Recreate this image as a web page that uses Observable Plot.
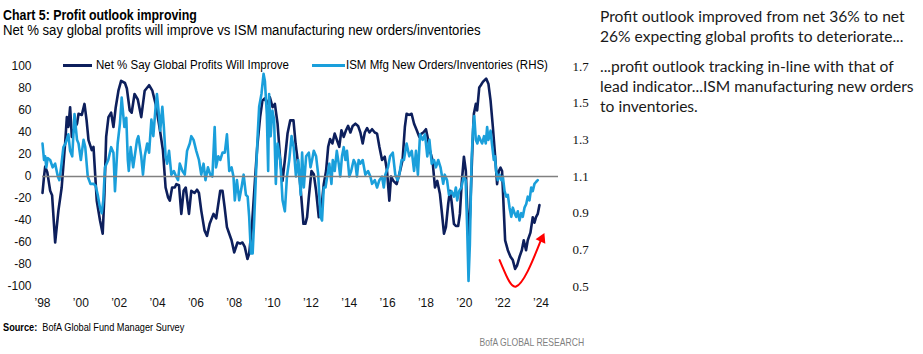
<!DOCTYPE html>
<html><head><meta charset="utf-8">
<script src="https://cdn.jsdelivr.net/npm/d3@7"></script>
<script src="https://cdn.jsdelivr.net/npm/@observablehq/plot@0.6"></script>
<style>
body{margin:0;background:#fff;}
#page{position:relative;width:923px;height:354px;overflow:hidden;font-family:"Liberation Sans Narrow","Arial Narrow","Liberation Sans",sans-serif;color:#000;}
.abs{position:absolute;white-space:nowrap;transform-origin:0 50%;}
#title{left:3px;top:7.3px;font-size:15px;line-height:15px;font-weight:bold;transform:scaleX(0.825);}
#subtitle{left:3px;top:23.2px;font-size:14px;line-height:14px;transform:scaleX(0.94);}
#chart{position:absolute;left:0;top:44px;}
.leg{font-size:12.5px;line-height:12.5px;top:59.4px;transform:scaleX(0.92);}
.legline{position:absolute;height:3px;top:64px;}
#source{left:3px;top:321.7px;font-size:11px;line-height:11px;transform:scaleX(0.835);}
#bofa{right:339px;top:336.7px;font-size:11px;line-height:11px;color:#7f7f7f;transform-origin:100% 50%;transform:scaleX(0.78);}
.note{left:600px;font-family:Lato,"Open Sans",sans-serif;font-size:15.6px;line-height:20px;color:#1a1a1a;}
</style></head>
<body><div id="page">
<div id="title" class="abs">Chart 5: Profit outlook improving</div>
<div id="subtitle" class="abs">Net % say global profits will improve vs ISM manufacturing new orders/inventories</div>
<div id="chart"></div>
<div class="legline" style="left:63px;width:29px;background:#0d1f5c"></div>
<div class="abs leg" style="left:96px">Net % Say Global Profits Will Improve</div>
<div class="legline" style="left:312px;width:33px;background:#1a9fdb"></div>
<div class="abs leg" style="left:346px">ISM Mfg New Orders/Inventories (RHS)</div>
<div id="source" class="abs"><b>Source:</b>&nbsp; BofA Global Fund Manager Survey</div>
<div id="bofa" class="abs">BofA GLOBAL RESEARCH</div>
<div class="abs note" style="top:5.9px">Profit outlook improved from net 36% to net<br>26% expecting global profits to deteriorate...</div>
<div class="abs note" style="top:55.9px">...profit outlook tracking in-line with that of<br>lead indicator...ISM manufacturing new orders<br>to inventories.</div>
</div>
<script>
// Net % say global profits will improve (LHS)
const profitYears = [1998.00,1998.08,1998.14,1998.25,1998.40,1998.50,1998.66,1998.83,1999.00,1999.18,1999.27,1999.35,1999.44,1999.53,1999.62,1999.80,1999.88,2000.05,2000.19,2000.30,2000.40,2000.57,2000.66,2000.83,2001.00,2001.14,2001.23,2001.32,2001.44,2001.58,2001.70,2001.82,2001.96,2002.10,2002.30,2002.40,2002.55,2002.65,2002.80,2002.97,2003.15,2003.33,2003.56,2003.73,2003.90,2004.10,2004.28,2004.42,2004.55,2004.64,2004.76,2004.90,2004.98,2005.12,2005.24,2005.36,2005.47,2005.64,2005.76,2005.93,2006.06,2006.16,2006.28,2006.45,2006.58,2006.72,2006.92,2007.06,2007.27,2007.39,2007.50,2007.62,2007.74,2007.86,2008.00,2008.17,2008.31,2008.43,2008.55,2008.69,2008.78,2008.92,2009.08,2009.20,2009.35,2009.47,2009.59,2009.73,2009.86,2010.00,2010.12,2010.26,2010.40,2010.52,2010.64,2010.78,2010.92,2011.09,2011.20,2011.38,2011.50,2011.61,2011.71,2011.80,2011.89,2012.03,2012.15,2012.27,2012.41,2012.55,2012.67,2012.79,2012.90,2013.00,2013.12,2013.24,2013.36,2013.48,2013.59,2013.71,2013.83,2013.94,2014.06,2014.18,2014.32,2014.46,2014.58,2014.70,2014.81,2014.93,2015.05,2015.19,2015.33,2015.45,2015.57,2015.71,2015.85,2015.97,2016.09,2016.18,2016.30,2016.47,2016.65,2016.78,2016.90,2016.99,2017.12,2017.25,2017.38,2017.52,2017.65,2017.77,2017.86,2018.00,2018.12,2018.20,2018.34,2018.47,2018.59,2018.73,2018.82,2018.94,2019.04,2019.16,2019.25,2019.33,2019.46,2019.56,2019.68,2019.77,2019.86,2019.98,2020.08,2020.15,2020.22,2020.32,2020.43,2020.50,2020.60,2020.67,2020.78,2020.86,2020.97,2021.14,2021.26,2021.37,2021.49,2021.61,2021.71,2021.80,2021.89,2021.97,2022.06,2022.13,2022.27,2022.41,2022.53,2022.65,2022.75,2022.88,2023.00,2023.10,2023.22,2023.31,2023.45,2023.57,2023.66,2023.74,2023.83,2023.92];
const profitValues = [-15,0,9,4,-13,-17,-60,-31,-10,30,54,45,63,36,42,48,57,56,66,51,33,24,27,-22,-40,-52,-16,36,54,58,45,63,78,87,85,80,60,58,75,70,54,78,83,78,66,45,24,-10,-19,-22,-10,-10,-7,-8,-34,-13,-10,-34,-13,-15,-12,-15,-31,-49,-54,-43,-34,-38,-13,-13,-28,-46,-52,-58,-69,-60,-61,-60,-64,-75,-70,-46,-4,27,54,69,71,66,72,63,66,48,15,-4,15,39,51,51,30,5,-19,-43,-43,-37,-19,5,2,-13,-37,-28,-7,5,27,34,30,39,33,27,42,36,42,46,40,46,48,46,40,30,40,44,40,43,40,39,27,15,18,5,-22,0,-4,-7,5,15,45,57,56,57,48,42,36,39,40,43,33,24,15,-10,-4,-16,-31,-52,-46,-25,-13,-22,-43,-45,-45,-34,-7,18,5,-28,-64,-25,30,57,66,60,81,83,86,89,84,69,45,18,-7,5,8,5,-31,-58,-67,-73,-76,-84,-81,-73,-67,-58,-67,-58,-51,-37,-42,-37,-34,-26];

// ISM manufacturing new orders / inventories (RHS)
const ismYears = [1998.00,1998.08,1998.14,1998.20,1998.27,1998.40,1998.53,1998.66,1998.80,1998.88,1998.97,1999.09,1999.20,1999.35,1999.44,1999.55,1999.67,1999.80,1999.88,2000.00,2000.14,2000.23,2000.36,2000.50,2000.66,2000.77,2000.88,2001.00,2001.09,2001.17,2001.26,2001.43,2001.58,2001.70,2001.78,2001.92,2002.04,2002.13,2002.27,2002.37,2002.45,2002.50,2002.60,2002.73,2002.93,2003.00,2003.15,2003.24,2003.33,2003.46,2003.56,2003.68,2003.78,2003.90,2003.97,2004.07,2004.14,2004.25,2004.33,2004.42,2004.50,2004.60,2004.72,2004.85,2004.97,2005.07,2005.16,2005.30,2005.42,2005.54,2005.68,2005.76,2005.88,2006.02,2006.16,2006.28,2006.40,2006.50,2006.63,2006.75,2006.86,2006.98,2007.05,2007.17,2007.27,2007.39,2007.51,2007.62,2007.74,2007.86,2007.96,2008.03,2008.14,2008.26,2008.38,2008.49,2008.61,2008.70,2008.78,2008.87,2008.96,2009.04,2009.13,2009.22,2009.30,2009.42,2009.53,2009.60,2009.70,2009.77,2009.82,2009.90,2009.99,2010.08,2010.17,2010.26,2010.40,2010.52,2010.64,2010.75,2010.87,2010.99,2011.10,2011.22,2011.34,2011.47,2011.54,2011.63,2011.75,2011.89,2011.98,2012.06,2012.15,2012.27,2012.38,2012.50,2012.58,2012.67,2012.76,2012.85,2012.96,2013.07,2013.14,2013.24,2013.35,2013.45,2013.53,2013.62,2013.71,2013.80,2013.88,2014.00,2014.10,2014.23,2014.32,2014.40,2014.49,2014.58,2014.70,2014.84,2014.98,2015.10,2015.19,2015.33,2015.45,2015.57,2015.71,2015.80,2015.88,2016.02,2016.13,2016.27,2016.40,2016.52,2016.61,2016.73,2016.85,2016.99,2017.13,2017.26,2017.38,2017.48,2017.58,2017.69,2017.83,2017.95,2018.07,2018.18,2018.30,2018.42,2018.52,2018.64,2018.76,2018.90,2018.98,2019.10,2019.20,2019.33,2019.46,2019.56,2019.63,2019.73,2019.85,2019.97,2020.07,2020.15,2020.22,2020.29,2020.38,2020.46,2020.52,2020.60,2020.68,2020.76,2020.84,2020.93,2021.03,2021.12,2021.19,2021.26,2021.37,2021.44,2021.54,2021.60,2021.66,2021.75,2021.84,2021.93,2022.01,2022.10,2022.19,2022.27,2022.36,2022.45,2022.53,2022.62,2022.71,2022.79,2022.88,2022.97,2023.05,2023.14,2023.23,2023.31,2023.40,2023.49,2023.57,2023.66,2023.74,2023.83];
const ismValues = [1.28,1.19,1.21,1.15,1.20,1.19,1.15,1.17,1.10,1.08,1.15,1.26,1.28,1.33,1.24,1.21,1.44,1.30,1.28,1.19,1.30,1.26,1.10,1.06,1.06,1.05,1.00,0.93,0.90,0.97,1.15,1.19,1.26,1.23,1.02,1.28,1.39,1.53,1.37,1.42,1.19,1.13,1.26,1.15,1.30,1.32,1.21,1.11,1.21,1.28,1.23,1.41,1.32,1.48,1.55,1.44,1.35,1.48,1.37,1.21,1.17,1.24,1.11,1.13,1.10,1.08,1.17,1.13,1.11,1.24,1.28,1.32,1.30,1.24,1.19,1.11,1.17,1.08,1.15,1.11,1.10,1.37,1.15,1.21,1.19,1.23,1.23,1.33,1.13,1.15,1.10,0.97,1.08,0.97,1.04,1.11,1.00,0.99,0.88,0.68,0.68,0.86,1.10,1.32,1.48,1.55,1.66,1.62,1.44,1.13,1.55,1.32,1.46,1.41,1.06,1.28,1.19,0.97,0.91,1.10,1.19,1.32,1.26,1.10,1.19,1.00,1.23,1.04,1.21,1.23,1.15,1.19,1.24,1.21,1.11,0.88,0.86,1.04,1.04,1.10,1.17,1.06,1.19,1.13,1.24,1.17,1.10,1.21,1.26,1.19,1.24,1.10,1.13,1.19,1.17,1.10,1.19,1.17,1.19,1.11,1.13,1.10,1.06,1.08,1.04,1.08,1.10,1.04,1.11,1.15,1.21,1.23,1.11,1.08,1.11,1.19,1.19,1.28,1.21,1.24,1.13,1.24,1.11,1.33,1.30,1.33,1.21,1.30,1.17,1.19,1.15,1.19,1.15,1.06,1.11,1.08,1.00,1.02,0.99,1.04,0.97,1.02,1.04,1.10,1.08,0.82,0.53,0.73,1.19,1.37,1.43,1.30,1.28,1.32,1.30,1.28,1.32,1.28,1.37,1.30,1.35,1.28,1.19,1.21,1.13,1.08,1.11,1.08,1.10,1.02,0.99,1.00,0.93,0.88,0.93,0.90,0.88,0.91,0.86,0.90,0.88,0.93,0.95,0.99,0.97,1.04,1.02,1.06,1.07,1.08];

const leftTicks = [-100,-80,-60,-40,-20,0,20,40,60,80,100];
const rhsTicks = [0.5,0.7,0.9,1.1,1.3,1.5,1.7];
const yearTicks = [1998,2000,2002,2004,2006,2008,2010,2012,2014,2016,2018,2020,2022,2024];

// red "recovery" arrow annotation (LHS units)
const arrowYears = [2021.84,2022.27,2022.70,2023.31,2023.97];
const arrowValues = [-76,-93,-100,-86,-59];
const arrowHeadYear = [2024.04];
const arrowHeadValue = [-56.6];

// RHS ratio -> LHS scale (1.1 <-> 0, 0.5 <-> -100, 1.7 <-> 100)
const toLeft = r => Math.round((r - 1.1) / 0.006 * 1e6) / 1e6;
const toRight = v => 1.1 + v * 0.006;

const profit = profitYears.map((t, i) => ({t, v: profitValues[i]}));
const ism = ismYears.map((t, i) => ({t, v: toLeft(ismValues[i])}));

const NAVY = "#0d1f5c", LIGHT = "#1a9fdb";
const xEnd = 2024.913;

const chart = Plot.plot({
  width: 600, height: 276,
  marginTop: 22, marginBottom: 34, marginLeft: 42, marginRight: 42,
  style: {background: "transparent", overflow: "visible"},
  x: {domain: [1998, xEnd], axis: null},
  y: {domain: [-100, 100], axis: null},
  marks: [
    Plot.axisY(leftTicks, {anchor: "left", label: null, tickSize: 0, tickPadding: 11,
      tickFormat: d => String(d), fontSize: 12, fontFamily: "Liberation Sans", fill: "#111"}),
    Plot.axisY(rhsTicks.map(toLeft), {anchor: "right", label: null, tickSize: 0, tickPadding: 14,
      tickFormat: d => toRight(d).toFixed(1), fontSize: 13, fontFamily: "Liberation Serif", fill: "#111"}),
    Plot.axisX(yearTicks, {anchor: "bottom", label: null, tickSize: 0, tickPadding: 12,
      tickFormat: d => "\u2019" + String(d).slice(2), fontSize: 12, fontFamily: "Liberation Sans", fill: "#111"}),
    Plot.line(profit, {x: "t", y: "v", stroke: NAVY, strokeWidth: 2.6, strokeLinejoin: "round"}),
    Plot.line(ism, {x: "t", y: "v", stroke: LIGHT, strokeWidth: 2.6, strokeLinejoin: "round"}),
    Plot.ruleY([0], {stroke: "#808080", strokeWidth: 1.5}),
    Plot.line(arrowYears, {x: arrowYears, y: arrowValues, curve: "natural", stroke: "#f00", strokeWidth: 2}),
    Plot.dot(arrowHeadYear, {x: arrowHeadYear, y: arrowHeadValue, symbol: "triangle", r: 4, fill: "#f00", stroke: "none", rotate: 25})
  ]
});
document.getElementById("chart").appendChild(chart);
</script>
</body></html>
